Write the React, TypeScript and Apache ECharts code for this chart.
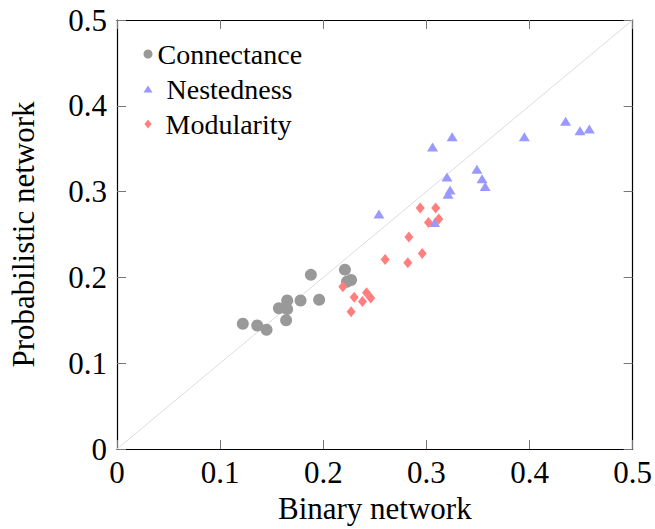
import React, { useEffect, useRef } from "react";
import * as echarts from "echarts";

const connectance: [number, number][] = [
  [0.122, 0.146], [0.136, 0.144], [0.145, 0.139], [0.157, 0.164],
  [0.165, 0.173], [0.165, 0.163], [0.164, 0.150], [0.178, 0.173],
  [0.188, 0.203], [0.196, 0.174], [0.221, 0.209], [0.223, 0.195],
  [0.227, 0.197],
];

const nestedness: [number, number][] = [
  [0.254, 0.274], [0.306, 0.352], [0.325, 0.364], [0.320, 0.317],
  [0.323, 0.302], [0.321, 0.297], [0.308, 0.264], [0.349, 0.326],
  [0.354, 0.315], [0.357, 0.306], [0.395, 0.364], [0.435, 0.382],
  [0.449, 0.371], [0.458, 0.373],
];

const modularity: [number, number][] = [
  [0.219, 0.189], [0.227, 0.160], [0.230, 0.177], [0.238, 0.172],
  [0.242, 0.182], [0.246, 0.176], [0.260, 0.221], [0.282, 0.217],
  [0.283, 0.247], [0.296, 0.228], [0.294, 0.281], [0.302, 0.264],
  [0.309, 0.281], [0.312, 0.268],
];

const diagonal: [number, number][] = [[0, 0], [0.5, 0.5]];

const seriesNames = ["Connectance", "Nestedness", "Modularity"];
const xName = "Binary network";
const yName = "Probabilistic network";

const FONT = "Liberation Serif, Times New Roman, serif";

export default function App() {
  const ref = useRef<HTMLDivElement>(null);
  useEffect(() => {
    if (!ref.current) return;
    const chart = echarts.init(ref.current, undefined, { renderer: "svg" });
    const fmt = (v: number) => String(Math.round(v * 10) / 10);
    const baseAxis = {
      type: "value" as const,
      min: 0,
      max: 0.5,
      interval: 0.1,
      splitLine: { show: false },
      axisLine: { show: true, onZero: false, lineStyle: { color: "#000", width: 1.2 } },
      axisTick: { show: true, inside: true, length: 9, lineStyle: { color: "#777", width: 1 } },
    };
    const legendCommon = {
      orient: "vertical" as const,
      padding: 0,
      selectedMode: false,
      itemGap: 0,
      textStyle: { fontFamily: FONT, fontSize: 28, color: "#000", lineHeight: 30 },
    };
    chart.setOption({
      animation: false,
      textStyle: { fontFamily: FONT },
      grid: { left: 117, top: 20, right: 22, bottom: 79, containLabel: false },
      legend: [
        {
          ...legendCommon,
          data: [{ name: seriesNames[0], icon: "circle" }],
          left: 143.5,
          top: 39,
          itemWidth: 9,
          itemHeight: 9,
        },
        {
          ...legendCommon,
          data: [{ name: seriesNames[1], icon: "triangle" }],
          left: 143.5,
          top: 74,
          itemWidth: 9,
          itemHeight: 7,
          textStyle: { ...legendCommon.textStyle, padding: [0, 0, 0, 9] },
        },
        {
          ...legendCommon,
          data: [{ name: seriesNames[2], icon: "diamond" }],
          left: 144.5,
          top: 109,
          itemWidth: 7,
          itemHeight: 9,
          textStyle: { ...legendCommon.textStyle, padding: [0, 0, 0, 9] },
        },
      ],
      xAxis: [
        {
          ...baseAxis,
          position: "bottom",
          name: xName,
          nameLocation: "middle",
          nameGap: 44,
          nameTextStyle: { fontFamily: FONT, fontSize: 31, color: "#000" },
          axisLabel: { fontFamily: FONT, fontSize: 31, color: "#000", margin: 8, formatter: fmt },
        },
        {
          ...baseAxis,
          position: "top",
          axisLabel: { show: false },
        },
      ],
      yAxis: [
        {
          ...baseAxis,
          position: "left",
          name: yName,
          nameLocation: "middle",
          nameGap: 78,
          nameTextStyle: { fontFamily: FONT, fontSize: 31, color: "#000" },
          axisLabel: { fontFamily: FONT, fontSize: 31, color: "#000", margin: 10, formatter: fmt },
        },
        {
          ...baseAxis,
          position: "right",
          axisLabel: { show: false },
        },
      ],
      series: [
        {
          type: "line",
          data: diagonal,
          symbol: "none",
          lineStyle: { color: "#dcdcdc", width: 1 },
          silent: true,
          z: 1,
        },
        {
          name: seriesNames[0],
          type: "scatter",
          data: connectance,
          symbol: "circle",
          symbolSize: 12,
          itemStyle: { color: "#999999", opacity: 1 },
          z: 2,
        },
        {
          name: seriesNames[1],
          type: "scatter",
          data: nestedness,
          symbol: "triangle",
          symbolSize: [11, 9],
          itemStyle: { color: "#9999ff", opacity: 1 },
          z: 3,
        },
        {
          name: seriesNames[2],
          type: "scatter",
          data: modularity,
          symbol: "diamond",
          symbolSize: [9, 11],
          itemStyle: { color: "#ff7f7f", opacity: 1 },
          z: 4,
        },
      ],
    });
    return () => chart.dispose();
  }, []);
  return <div ref={ref} style={{ width: 655, height: 529, position: "absolute", left: 0, top: 0 }} />;
}
